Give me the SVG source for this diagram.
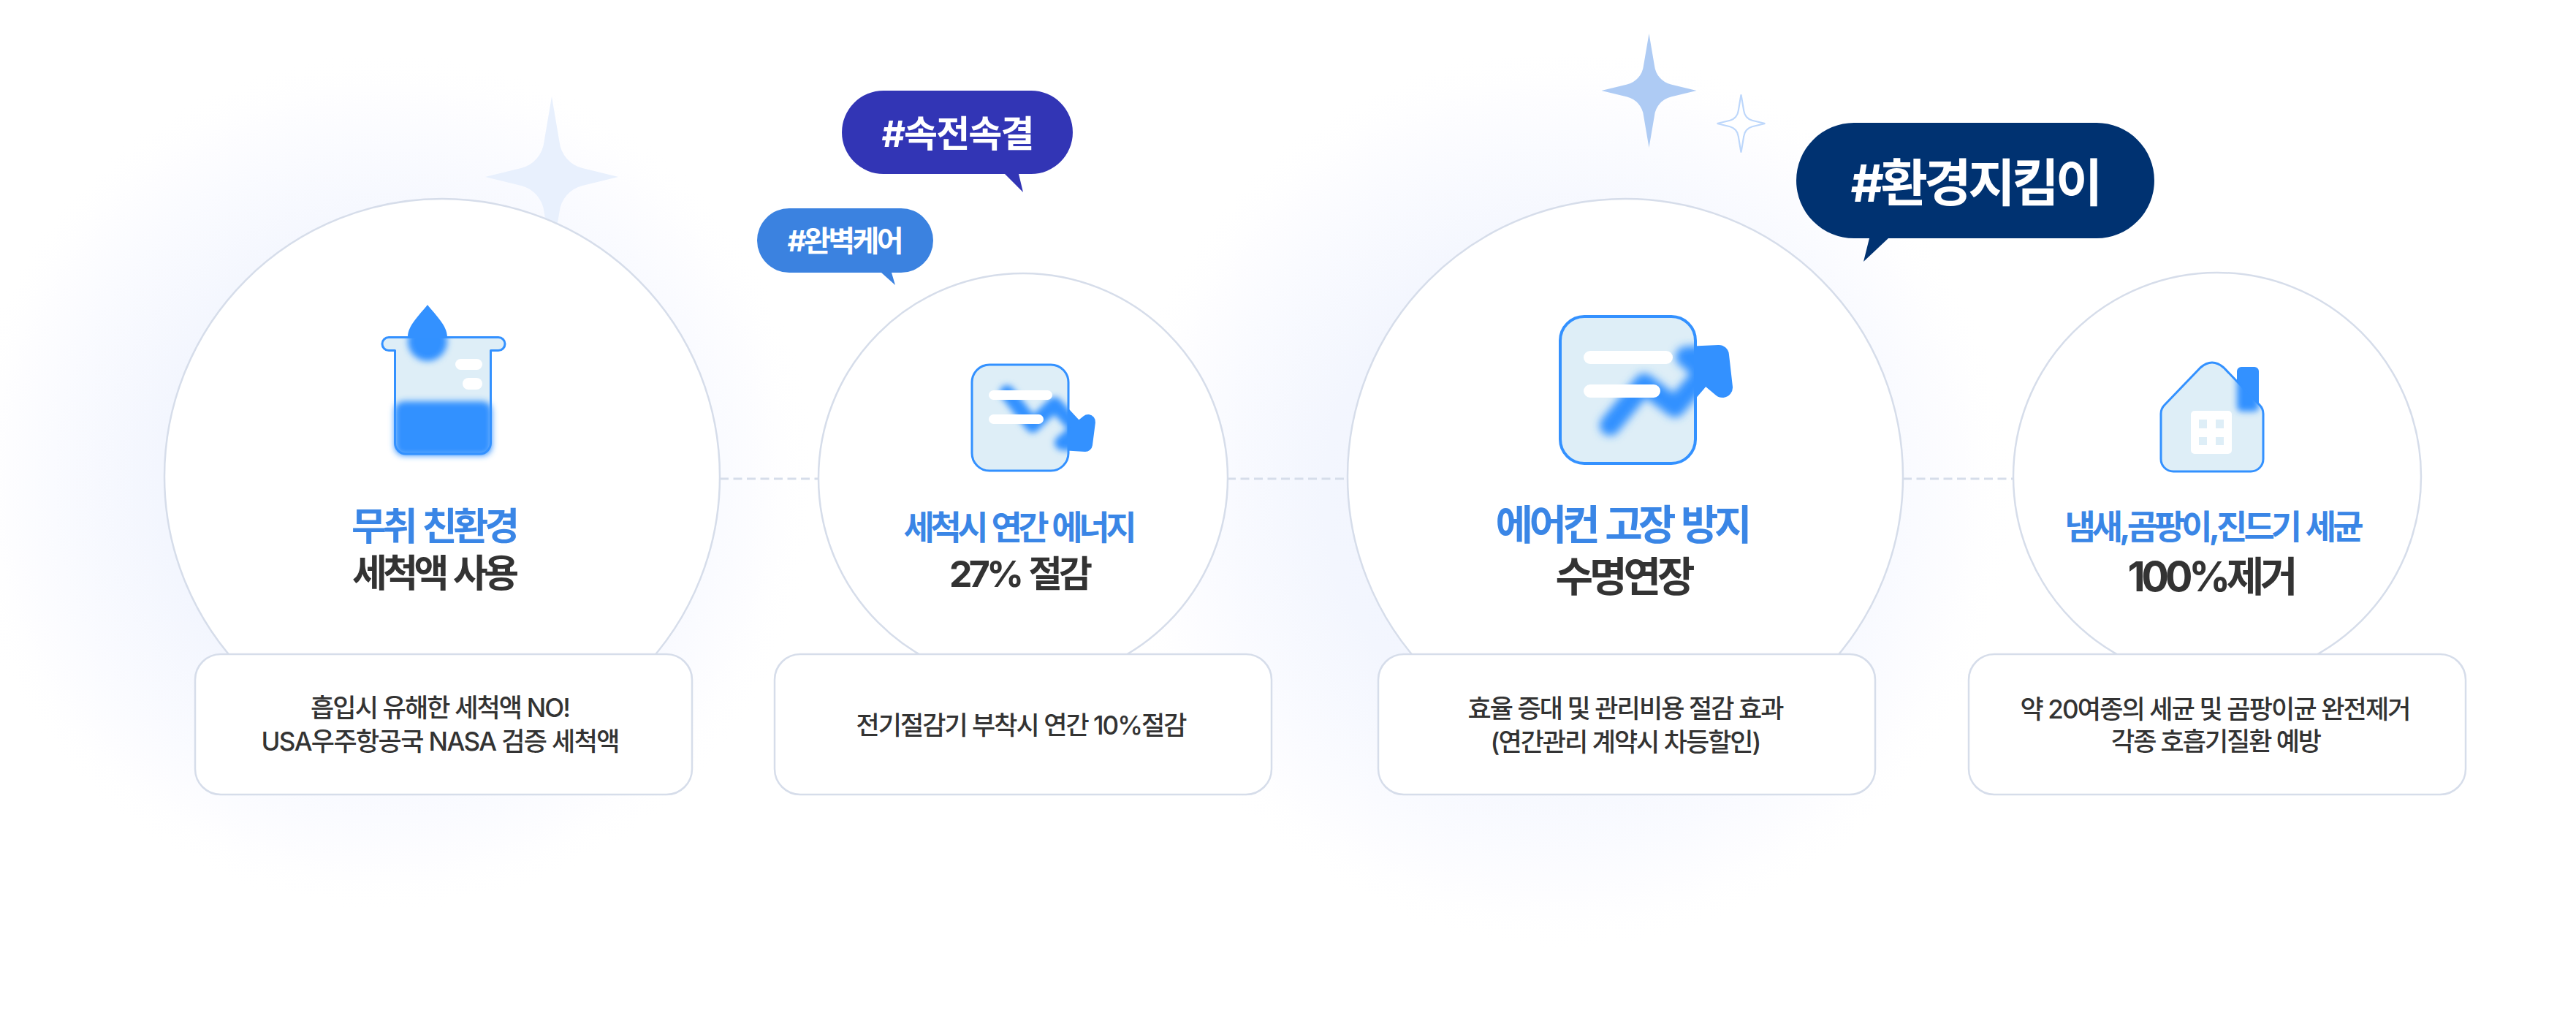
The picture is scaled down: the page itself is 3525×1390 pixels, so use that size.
<svg xmlns="http://www.w3.org/2000/svg" width="3525" height="1390" viewBox="0 0 3525 1390">
<style>
text{font-family:Inter,"Noto Sans CJK KR",sans-serif;text-anchor:middle}
.ring{fill:#fff;stroke:#D6DDEA;stroke-width:2.500}
.card{fill:#fff;stroke:#D6DDEA;stroke-width:2.500}
.blue{fill:#3A86E6;font-weight:700;word-spacing:.08em}
.dark{fill:#333;font-weight:700;word-spacing:.08em}
.body{fill:#333;font-weight:500;font-size:35px}
.tag{fill:#fff;font-weight:700}
.glass{fill:#DEEEF7}
.edge{fill:none;stroke:#3391FF;stroke-width:3;stroke-linejoin:round}
.ink{fill:#3391FF}
.bar{fill:#fff}
.dash{fill:none;stroke:#D6DDEA;stroke-width:3;stroke-dasharray:12 6.500}
</style>
<defs>
<radialGradient id="glow"><stop offset="0" stop-color="#F0F4FF"/><stop offset=".53" stop-color="#F3F6FE"/><stop offset=".78" stop-color="#FAFBFF"/><stop offset=".88" stop-color="#FDFDFF"/><stop offset="1" stop-color="#fff" stop-opacity="0"/></radialGradient>
<filter id="blur" x="-30%" y="-30%" width="160%" height="160%"><feGaussianBlur stdDeviation="4"/></filter>
<filter id="blur2" x="-30%" y="-30%" width="160%" height="160%"><feGaussianBlur stdDeviation="6"/></filter>
<path id="star" d="M0,-110L10.500,-48A42,42 0 0 0 42,-12L91,0L42,12A42,42 0 0 0 10.500,48L0,110L-10.500,48A42,42 0 0 0 -42,12L-91,0L-42,-12A42,42 0 0 0 -10.500,-48Z"/>
<path id="beaker" d="M532,461.500H682a9,9 0 0 1 0,18H671.500V606a15,15 0 0 1 -15,15H555.500a15,15 0 0 1 -15,-15V479.500H532a9,9 0 0 1 0,-18Z"/>
<path id="house" d="M2957,566Q2957,559 2962,554L3011,503Q3027,489 3043,503L3092,554Q3097,559 3097,566V628a17,17 0 0 1 -17,17H2974a17,17 0 0 1 -17,-17Z"/>
<clipPath id="cBeakerIn"><use href="#beaker"/></clipPath>
<clipPath id="cBox2"><rect x="1330" y="499" width="132" height="145" rx="24"/></clipPath>
<clipPath id="cBox3"><rect x="2135" y="433" width="185" height="201" rx="33"/></clipPath>
<clipPath id="cHouse"><use href="#house"/></clipPath>
</defs>
<rect width="3525" height="1390" fill="#fff"/>
<g id="background">
<circle cx="530" cy="660" r="590" fill="url(#glow)"/>
<circle cx="2140" cy="680" r="620" fill="url(#glow)"/>
<use href="#star" x="755" y="242" fill="#E8F0FD"/>
<use href="#star" transform="translate(2256.500 124) scale(.715 .71)" fill="#AECBF4"/>
<use href="#star" transform="translate(2382.500 169) scale(.36 .36)" fill="#fff" stroke="#BDD7FB" stroke-width="6"/>
</g>
<g id="connectors">
<path class="dash" d="M985,655H1120"/>
<path class="dash" d="M1679,655H1844"/>
<path class="dash" d="M2604,655H2755"/>
</g>
<g id="node-1">
<circle class="ring" cx="605" cy="652" r="380"/>
<rect class="card" x="267" y="895" width="680" height="192" rx="35"/>
<path class="ink" d="M585,417C575,430 558,445 558,461H612C612,445 595,430 585,417Z"/>
<use href="#beaker" class="glass"/>
<g clip-path="url(#cBeakerIn)"><circle class="ink" cx="585" cy="467" r="27" filter="url(#blur)"/></g>
<rect class="ink" x="540" y="549" width="133" height="74" rx="13" filter="url(#blur)"/>
<use href="#beaker" class="edge"/>
<rect class="bar" x="623" y="491" width="37" height="15" rx="7.500"/>
<rect class="bar" x="633" y="517" width="27" height="16" rx="8"/>
<text class="blue" x="596" y="739" font-size="52" textLength="230">무취 친환경</text>
<text class="dark" x="596" y="803" font-size="52" textLength="228">세척액 사용</text>
<text class="body" x="603" y="981" textLength="356">흡입시 유해한 세척액 NO!</text>
<text class="body" x="603" y="1027" textLength="491">USA우주항공국 NASA 검증 세척액</text>
</g>
<g id="node-2">
<circle class="ring" cx="1400" cy="654" r="280"/>
<rect class="card" x="1060" y="895" width="680" height="192" rx="35"/>
<path fill="none" stroke="#3391FF" stroke-width="20" stroke-linecap="round" stroke-linejoin="round" d="M1378,537L1413,582L1443,553L1480,593"/>
<path fill="#3391FF" stroke="#3391FF" stroke-width="20" stroke-linecap="round" stroke-linejoin="round" d="M1489,577L1485,608L1453,606Z"/>
<rect class="glass" x="1330" y="499" width="132" height="145" rx="24"/>
<g clip-path="url(#cBox2)"><g filter="url(#blur)"><path fill="none" stroke="#3391FF" stroke-width="20" stroke-linecap="round" stroke-linejoin="round" d="M1378,537L1413,582L1443,553L1480,593"/><path fill="#3391FF" stroke="#3391FF" stroke-width="20" stroke-linejoin="round" d="M1489,577L1485,608L1453,606Z"/></g></g>
<rect class="bar" x="1353" y="534" width="87" height="13" rx="6.500"/>
<rect class="bar" x="1353" y="567" width="75" height="13" rx="6.500"/>
<rect class="edge" x="1330" y="499" width="132" height="145" rx="24"/>
<text class="blue" x="1396" y="738" font-size="46" textLength="319">세척시 연간 에너지</text>
<text class="dark" x="1397" y="803" font-size="50" textLength="196">27% 절감</text>
<text class="body" x="1398" y="1005" textLength="453">전기절감기 부착시 연간 10%절감</text>
</g>
<g id="node-3">
<circle class="ring" cx="2224" cy="652" r="380"/>
<rect class="card" x="1886" y="895" width="680" height="192" rx="35"/>
<g fill="none" stroke="#3391FF" stroke-linecap="round" stroke-linejoin="round"><path stroke-width="28" d="M2203,582L2250,525L2292,557L2345,495"/><path fill="#3391FF" stroke-width="28" d="M2307,488L2352,486L2357,530Z"/></g>
<rect class="glass" x="2135" y="433" width="185" height="201" rx="33"/>
<g clip-path="url(#cBox3)"><g filter="url(#blur2)" fill="none" stroke="#3391FF" stroke-linecap="round" stroke-linejoin="round"><path stroke-width="28" d="M2203,582L2250,525L2292,557L2345,495"/><path fill="#3391FF" stroke-width="28" d="M2307,488L2352,486L2357,530Z"/></g></g>
<rect class="bar" x="2167" y="480" width="122" height="18" rx="9"/>
<rect class="bar" x="2167" y="526" width="105" height="18" rx="9"/>
<rect class="edge" style="stroke-width:4" x="2135" y="433" width="185" height="201" rx="33"/>
<text class="blue" x="2222" y="738" font-size="56" textLength="351">에어컨 고장 방지</text>
<text class="dark" x="2224" y="809" font-size="56" textLength="191">수명연장</text>
<text class="body" x="2225" y="982" textLength="433">효율 증대 및 관리비용 절감 효과</text>
<text class="body" x="2225" y="1028" textLength="371">(연간관리 계약시 차등할인)</text>
</g>
<g id="node-4">
<circle class="ring" cx="3034" cy="652" r="279"/>
<rect class="card" x="2694" y="895" width="680" height="192" rx="35"/>
<rect class="ink" x="3061" y="502" width="30" height="61" rx="6"/>
<use href="#house" class="glass"/>
<g clip-path="url(#cHouse)"><rect class="ink" x="3061" y="502" width="30" height="61" rx="6" filter="url(#blur)"/></g>
<use href="#house" class="edge"/>
<rect class="bar" x="2998" y="562" width="56" height="59" rx="5"/>
<g class="glass"><rect x="3009" y="574" width="11" height="12"/><rect x="3032" y="574" width="11" height="12"/><rect x="3009" y="598" width="11" height="11"/><rect x="3032" y="598" width="11" height="11"/></g>
<text class="blue" x="3030" y="737" font-size="46" textLength="409">냄새,곰팡이,진드기 세균</text>
<text class="dark" x="3028" y="809" font-size="56" textLength="233">100%제거</text>
<text class="body" x="3032" y="983" textLength="535">약 20여종의 세균 및 곰팡이균 완전제거</text>
<text class="body" x="3033" y="1027" textLength="288">각종 호흡기질환 예방</text>
</g>
<g id="tag-speed">
<path fill="#3235B5" d="M1209,124H1411a57,57 0 0 1 0,114H1394L1400,263L1375,238H1209a57,57 0 0 1 0,-114Z"/>
<text class="tag" x="1311" y="201" font-size="50" textLength="209">#속전속결</text>
</g>
<g id="tag-perfect">
<path fill="#3B82E0" d="M1080,285H1233a44,44 0 0 1 0,88H1220L1225,390L1206,373H1080a44,44 0 0 1 0,-88Z"/>
<text class="tag" x="1157" y="344" font-size="40" textLength="159">#완벽케어</text>
</g>
<g id="tag-env">
<path fill="#003271" d="M2537,168H2869a79,79 0 0 1 0,158H2584L2550,358L2558,326H2537a79,79 0 0 1 0,-158Z"/>
<text class="tag" x="2705" y="276" font-size="70" textLength="345">#환경지킴이</text>
</g>
</svg>
